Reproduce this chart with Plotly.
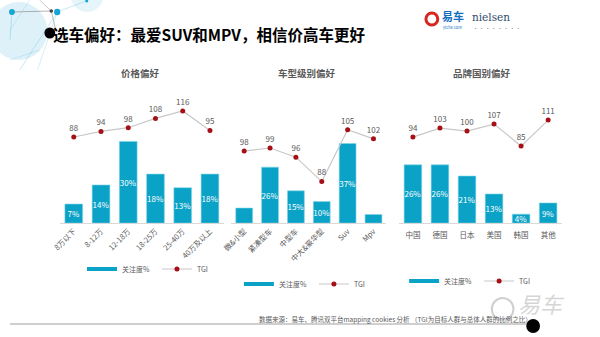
import plotly.graph_objects as go

# ---- data ----
price_cats = ["8万以下", "8-12万", "12-18万", "18-25万", "25-40万", "40万及以上"]
price_share = [7, 14, 30, 18, 13, 18]
price_tgi = [88, 94, 98, 108, 116, 95]

class_cats = ["微&小型", "紧凑型车", "中型车", "中大&豪华型", "Suv", "Mpv"]
class_share = [7, 26, 15, 10, 37, 4]
class_labels = ["", "26%", "15%", "10%", "37%", ""]
class_tgi = [98, 99, 96, 88, 105, 102]

brand_cats = ["中国", "德国", "日本", "美国", "韩国", "其他"]
brand_share = [26, 26, 21, 13, 4, 9]
brand_tgi = [94, 103, 100, 107, 85, 111]

panel_titles = ["价格偏好", "车型级别偏好", "品牌国别偏好"]

FONT = "Noto Sans CJK SC, Noto Sans, sans-serif"
BAR = "#0aa2c7"
GRAY = "#595959"
RED = "#a50f15"

fig = go.Figure()

panels = [
    (price_cats, price_share, [f"{v}%" for v in price_share], price_tgi, "x", "y", "y4", "legend"),
    (class_cats, class_share, class_labels, class_tgi, "x2", "y2", "y5", "legend2"),
    (brand_cats, brand_share, [f"{v}%" for v in brand_share], brand_tgi, "x3", "y3", "y6", "legend3"),
]

for cats, share, labels, tgi, xa, ya, ya2, lg in panels:
    fig.add_trace(go.Bar(
        x=cats, y=share, text=labels, textposition="inside", insidetextanchor="middle",
        textangle=0, constraintext="none", textfont=dict(color="white", size=8, family=FONT),
        marker=dict(color=BAR, line=dict(color="#7fd3e6", width=0.6)),
        xaxis=xa, yaxis=ya, showlegend=False, hoverinfo="skip"))
    # legend proxies
    fig.add_trace(go.Scatter(
        x=[None], y=[None], mode="lines", line=dict(color=BAR, width=4),
        name="关注度%", xaxis=xa, yaxis=ya, legend=lg))
    fig.add_trace(go.Scatter(
        x=cats, y=tgi, mode="lines+markers+text", text=[str(v) for v in tgi],
        textposition="top center", textfont=dict(color=GRAY, size=8, family=FONT),
        line=dict(color="#c8c8c8", width=1.2),
        marker=dict(color=RED, size=5),
        name="TGI", xaxis=xa, yaxis=ya2, legend=lg, cliponaxis=False))

ydom = [0.338, 0.703]
axcommon = dict(showgrid=False, zeroline=False, showticklabels=False, fixedrange=True)
xcommon = dict(showgrid=False, zeroline=False, showline=True, linecolor="#d9d9d9",
               linewidth=1, ticks="", tickfont=dict(size=7.5, color=GRAY, family=FONT))

fig.update_layout(
    width=600, height=337, margin=dict(l=0, r=0, t=0, b=0),
    paper_bgcolor="white", plot_bgcolor="rgba(0,0,0,0)",
    font=dict(family=FONT, color=GRAY),
    bargap=0.35,
    xaxis=dict(domain=[0.085, 0.362], anchor="y", tickangle=-45, **xcommon),
    xaxis2=dict(domain=[0.375, 0.638], anchor="y2", tickangle=-45, **xcommon),
    xaxis3=dict(domain=[0.66, 0.935], anchor="y3", tickangle=0, ticklabelstandoff=5, **xcommon),
    yaxis=dict(domain=ydom, range=[0, 45.2], anchor="x", **axcommon),
    yaxis2=dict(domain=ydom, range=[0, 57.2], anchor="x2", **axcommon),
    yaxis3=dict(domain=ydom, range=[0, 54.9], anchor="x3", **axcommon),
    yaxis4=dict(overlaying="y", range=[-4.5, 127.7], anchor="x", **axcommon),
    yaxis5=dict(overlaying="y2", range=[74.4, 114.7], anchor="x2", **axcommon),
    yaxis6=dict(overlaying="y3", range=[8, 131], anchor="x3", **axcommon),
)

legcommon = dict(orientation="h", xanchor="left", yanchor="middle",
                 font=dict(size=7, color=GRAY, family=FONT), bgcolor="rgba(0,0,0,0)",
                 itemwidth=30, tracegroupgap=0, entrywidth=30, entrywidthmode="pixels")
fig.update_layout(
    legend=dict(x=0.122, y=1 - 269 / 337, **legcommon),
    legend2=dict(x=0.388, y=1 - 284 / 337, **legcommon),
    legend3=dict(x=0.668, y=1 - 281 / 337, **legcommon),
)


def ann(text, x, y, size, color, family=FONT, xanchor="left"):
    fig.add_annotation(text=text, x=x / 600, y=1 - y / 337, xref="paper", yref="paper",
                       xanchor=xanchor, yanchor="middle", showarrow=False,
                       font=dict(size=size, color=color, family=family))


# panel titles
for t, xc in zip(panel_titles, [133, 302, 480]):
    ann(f"<b>{t}</b>", xc, 73, 9.5, GRAY, xanchor="center")

# header
ann("<b>选车偏好：最爱SUV和MPV，相信价高车更好</b>", 42, 34, 15.5, "black")

shapes = []
# decorative network top-left
shapes.append(dict(type="circle", xref="paper", yref="paper", x0=-20 / 600, x1=38 / 600,
                   y0=1 - 60 / 337, y1=1 - 2 / 337, fillcolor="rgba(160,215,235,0.35)", line=dict(width=0)))
shapes.append(dict(type="circle", xref="paper", yref="paper", x0=62 / 600, x1=95 / 600,
                   y0=1 - 12 / 337, y1=1 + 20 / 337, fillcolor="rgba(180,225,240,0.35)", line=dict(width=0)))
for (x0, y0, x1, y1, c) in [(0, 12, 42, 11, "rgba(120,120,120,0.7)"), (42, 11, 46, 28, "rgba(120,120,120,0.6)"),
                            (42, 11, 30, 0, "rgba(120,120,120,0.5)"), (2, 12, 0, 40, "rgba(120,200,230,0.6)"),
                            (48, 12, 10, 70, "rgba(120,200,230,0.5)"), (48, 12, 80, 0, "rgba(120,200,230,0.5)"),
                            (20, 0, 0, 30, "rgba(120,200,230,0.4)"), (30, 50, 0, 60, "rgba(120,200,230,0.4)"),
                            (48, 12, 28, 70, "rgba(120,200,230,0.4)")]:
    shapes.append(dict(type="line", xref="paper", yref="paper", x0=x0 / 600, x1=x1 / 600,
                       y0=1 - y0 / 337, y1=1 - y1 / 337, line=dict(color=c, width=0.8)))
for (cx, cy, r, c) in [(2, 12, 3, "#17a6d3"), (48, 12, 3.2, "#17a6d3"), (42, 11, 1.8, "#444444"),
                       (78, 1, 1.5, "#17a6d3")]:
    shapes.append(dict(type="circle", xref="paper", yref="paper", x0=(cx - r) / 600, x1=(cx + r) / 600,
                       y0=1 - (cy + r) / 337, y1=1 - (cy - r) / 337, fillcolor=c, line=dict(width=0)))
# header bullet
shapes.append(dict(type="circle", xref="paper", yref="paper", x0=35 / 600, x1=46 / 600,
                   y0=1 - 38.5 / 337, y1=1 - 27.5 / 337, fillcolor="black", line=dict(width=0)))
# bottom line and dot
shapes.append(dict(type="line", xref="paper", yref="paper", x0=0, x1=530 / 600,
                   y0=1 - 324 / 337, y1=1 - 324 / 337, line=dict(color="#cfcfcf", width=2)))
shapes.append(dict(type="circle", xref="paper", yref="paper", x0=525 / 600, x1=539 / 600,
                   y0=1 - 333 / 337, y1=1 - 319 / 337, fillcolor="black", line=dict(width=0)))
# watermark ring
shapes.append(dict(type="circle", xref="paper", yref="paper", x0=490 / 600, x1=512 / 600,
                   y0=1 - 320 / 337, y1=1 - 298 / 337, line=dict(color="rgba(195,195,195,0.8)", width=2)))
# yiche icon
shapes.append(dict(type="circle", xref="paper", yref="paper", x0=423 / 600, x1=435 / 600,
                   y0=1 - 25 / 337, y1=1 - 13 / 337, line=dict(color="#d7261e", width=3)))
fig.update_layout(shapes=shapes)

# logos
ann("<b>易车</b>", 437, 16, 11, "#1570c0")
ann("yiche.com", 438, 27, 4, "#1570c0")
ann("nielsen", 468, 17, 10.5, "#2b4a6b", family="DejaVu Serif, Liberation Serif, serif")
ann("· · · · · · · ·", 469, 28, 5, "#888888")

# footnote
ann("数据来源：易车、腾讯双平台mapping cookies 分析 （TGI为目标人群与总体人群的比例之比）", 251, 319, 6.5, GRAY)
# watermark
ann("<i>易车</i>", 515, 303, 22, "rgba(200,200,200,0.75)")

fig.write_html("out.html")
